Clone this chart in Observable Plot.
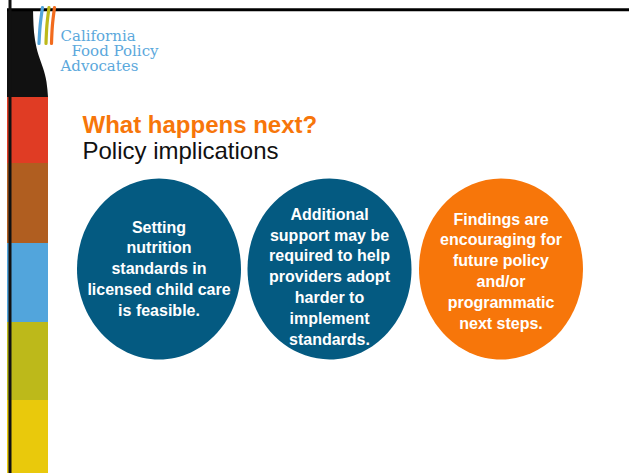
<!DOCTYPE html>
<html>
<head>
<meta charset="utf-8">
<script src="https://cdn.jsdelivr.net/npm/d3@7"></script>
<script src="https://cdn.jsdelivr.net/npm/@observablehq/plot@0.6"></script>
<style>
  html, body { margin: 0; padding: 0; background: #fff; }
  #chart svg { display: block; }
</style>
</head>
<body>
<div id="chart"></div>
<script>
// ---------- content ----------
const logoLines = ["California", "Food Policy", "Advocates"];
const titleText = "What happens next?";
const subtitleText = "Policy implications";
const statements = [
  "Setting\nnutrition\nstandards in\nlicensed child care\nis feasible.",
  "Additional\nsupport may be\nrequired to help\nproviders adopt\nharder to\nimplement\nstandards.",
  "Findings are\nencouraging for\nfuture policy\nand/or\nprogrammatic\nnext steps."
];
const statementColors = ["#045a81", "#045a81", "#f7760a"];
const stripeColors = ["#e03c24", "#b05e20", "#52a5dc", "#bdb91a", "#e9c90c"];
const tineColors = ["#52a5dc", "#bdb91a", "#f26b1d"];

// ---------- layout ----------
const W = 629, H = 473;
const stripeBreaks = [97, 163, 243, 322, 400, 473];
const stripes = stripeColors.map((c, i) => ({color: c, y1: stripeBreaks[i], y2: stripeBreaks[i + 1]}));
const forkEdge = [
  {y: 9, x: 33}, {y: 25, x: 33.5}, {y: 40, x: 35}, {y: 55, x: 38.5},
  {y: 68, x: 43}, {y: 82, x: 46.5}, {y: 97, x: 48}
];
const tineTops = [42, 48.5, 54], tineBottoms = [38.5, 45.5, 51];
const tines = tineColors.flatMap((c, i) => [
  {c, x: tineTops[i], y: 7}, {c, x: (tineTops[i] + tineBottoms[i]) / 2 - 0.6, y: 25}, {c, x: tineBottoms[i], y: 43}
]);
const logo = logoLines.map((t, i) => ({t, x: [60, 71, 60][i], y: [35.2, 50.2, 65.2][i]}));
const cx = [158.5, 329, 500.5], cy = 268.5, textY = [267, 275, 269.5];
const bubbles = statements.map((t, i) => ({t, color: statementColors[i], x: cx[i], y: cy, ty: textY[i]}));

const ASPECT = 90.5 / 82;
const ellipse = {
  draw(ctx, size) {
    const r = Math.sqrt(size / Math.PI), rx = r, ry = r * ASPECT, k = 0.5523;
    ctx.moveTo(rx, 0);
    ctx.bezierCurveTo(rx, ry * k, rx * k, ry, 0, ry);
    ctx.bezierCurveTo(-rx * k, ry, -rx, ry * k, -rx, 0);
    ctx.bezierCurveTo(-rx, -ry * k, -rx * k, -ry, 0, -ry);
    ctx.bezierCurveTo(rx * k, -ry, rx, -ry * k, rx, 0);
    ctx.closePath();
  }
};

const sans = "'Liberation Sans', Arial, Helvetica, sans-serif";

const chart = Plot.plot({
  width: W, height: H, margin: 0,
  x: {domain: [0, W], range: [0, W], axis: null},
  y: {domain: [0, H], range: [0, H], axis: null},
  color: {type: "identity"},
  style: {background: "#fff"},
  marks: [
    // left colour stripes
    Plot.rect(stripes, {x1: 7, x2: 48, y1: "y1", y2: "y2", fill: "color"}),
    // black fork handle
    Plot.areaX(forkEdge, {y: "y", x1: 7, x2: "x", fill: "#111", curve: "natural"}),
    // top rule and left rule
    Plot.ruleY([9.3], {x1: 7, x2: W, stroke: "#000", strokeWidth: 3}),
    Plot.ruleX([9.5], {y1: 0, y2: H, stroke: "#111", strokeWidth: 3}),
    // fork tines
    Plot.line(tines, {x: "x", y: "y", z: "c", stroke: "c", strokeWidth: 3.2, curve: "natural"}),
    // logo text
    Plot.text(logo, {x: "x", y: "y", text: "t", textAnchor: "start", lineAnchor: "middle",
      fill: "#5ba8dc", fontSize: 15, fontFamily: "'DejaVu Serif', serif"}),
    // title & subtitle
    Plot.text([titleText], {x: 82, y: 125.3, text: d => d, textAnchor: "start", lineAnchor: "middle",
      fill: "#f7760a", fontSize: 24, fontWeight: "bold", fontFamily: sans}),
    Plot.text([subtitleText], {x: 82, y: 151.3, text: d => d, textAnchor: "start", lineAnchor: "middle",
      fill: "#111", fontSize: 24, fontFamily: sans}),
    // bubbles
    Plot.dot(bubbles, {x: "x", y: "y", r: 82, symbol: ellipse, fill: "color", stroke: null}),
    Plot.text(bubbles, {x: "x", y: "ty", text: "t", lineAnchor: "middle", lineHeight: 1.3,
      fill: "#fff", fontSize: 16, fontWeight: "bold", fontFamily: sans})
  ]
});
document.getElementById("chart").appendChild(chart);
</script>
</body>
</html>
